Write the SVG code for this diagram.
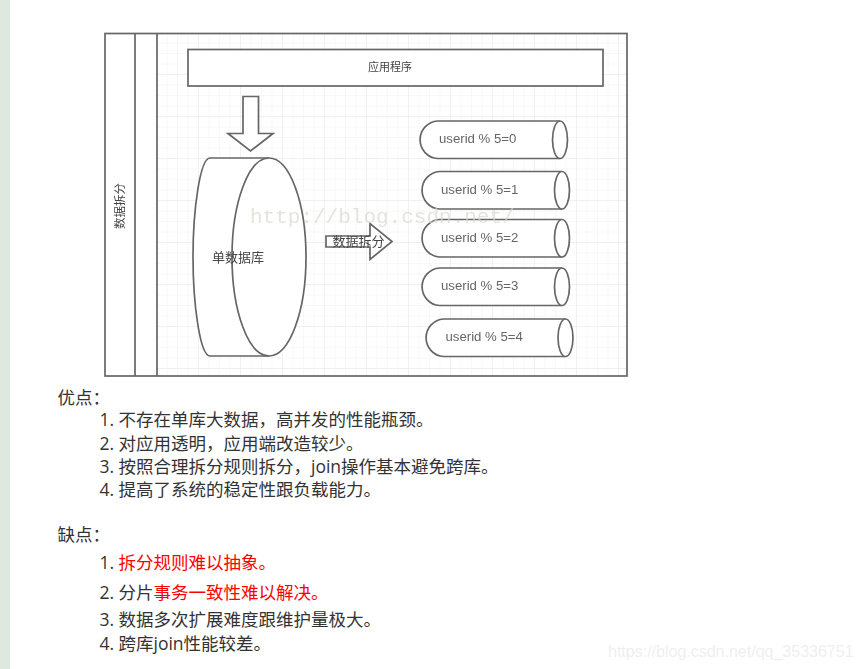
<svg xmlns="http://www.w3.org/2000/svg" width="859" height="669" viewBox="0 0 859 669">
<style>
.s{fill:#fff;stroke:#666;stroke-width:1.7}
.n{fill:none;stroke:#666;stroke-width:1.7}
.d{font-family:"Noto Sans CJK SC",sans-serif;font-size:13px;fill:#444}
.u{font-family:"Liberation Sans",sans-serif;font-size:13.200px;fill:#666}
.t{font-family:"Open Sans","Noto Sans CJK SC",sans-serif;font-size:17.500px;fill:#333}
.r{fill:#f00}
</style>
<defs>
<pattern id="minor" width="10.500" height="10.500" patternUnits="userSpaceOnUse" x="157" y="33">
<path d="M10.500 0V10.500H0" fill="none" stroke="#f1f1f1" stroke-width="1"/>
</pattern>
<pattern id="major" width="42" height="42" patternUnits="userSpaceOnUse" x="157" y="33">
<path d="M42 0V42H0" fill="none" stroke="#e9e9e9" stroke-width="1"/>
</pattern>
<filter id="b" x="-5%" y="-5%" width="110%" height="110%"><feGaussianBlur stdDeviation="0.5"/></filter>
</defs>
<rect width="859" height="669" fill="#fff"/>
<rect width="10" height="669" fill="#dfe8df"/>
<g filter="url(#b)">
<g id="frame">
<rect x="157" y="34" width="470" height="342" fill="url(#minor)"/>
<rect x="157" y="34" width="470" height="342" fill="url(#major)"/>
<rect class="n" x="105" y="33.500" width="522" height="342.500"/>
<path class="n" d="M135 33.500V376M157 33.500V376"/>
<text class="d" style="font-size:11.500px" transform="translate(124,229) rotate(-90)">数据拆分</text>
</g>
<g id="app">
<rect class="s" x="188" y="49.500" width="415" height="36.500"/>
<text class="d" x="390" y="71" text-anchor="middle" style="font-size:11px">应用程序</text>
</g>
<g id="down-arrow">
<path class="s" d="M243 96.500H258.500V133.500H273L250.500 151L228 133.500H243Z"/>
</g>
<g id="single-db">
<path class="s" d="M269 158H210C200 158 193 210 193 257C193 304 200 356 210 356H269"/>
<ellipse class="s" cx="269" cy="257" rx="37" ry="99"/>
<text class="d" x="238" y="261.500" text-anchor="middle">单数据库</text>
</g>
<g id="split-arrow">
<path class="s" d="M326 236H370V223.500L392 241.500L370 259.500V247H326Z"/>
<text class="d" x="358.500" y="246" text-anchor="middle">数据拆分</text>
</g>
<g id="shard-0">
<path class="s" d="M560 121H437.500A18.800 18.800 0 0 0 437.500 158.500H560"/>
<ellipse class="s" cx="560" cy="139.750" rx="7.500" ry="18.750"/>
<text class="u" x="439" y="143">userid % 5=0</text>
</g>
<g id="shard-1">
<path class="s" d="M562 171.500H439.500A18.800 18.800 0 0 0 439.500 209H562"/>
<ellipse class="s" cx="562" cy="190.250" rx="7.500" ry="18.750"/>
<text class="u" x="441" y="193.500">userid % 5=1</text>
</g>
<g id="shard-2">
<path class="s" d="M562 219.500H439.500A18.800 18.800 0 0 0 439.500 257H562"/>
<ellipse class="s" cx="562" cy="238.250" rx="7.500" ry="18.750"/>
<text class="u" x="441" y="241.500">userid % 5=2</text>
</g>
<g id="shard-3">
<path class="s" d="M562 268H439.500A18.800 18.800 0 0 0 439.500 305.500H562"/>
<ellipse class="s" cx="562" cy="286.750" rx="7.500" ry="18.750"/>
<text class="u" x="441" y="290">userid % 5=3</text>
</g>
<g id="shard-4">
<path class="s" d="M565.500 319H443.500A18.800 18.800 0 0 0 443.500 356.500H565.500"/>
<ellipse class="s" cx="565.500" cy="337.750" rx="7.500" ry="18.750"/>
<text class="u" x="445.500" y="341">userid % 5=4</text>
</g>
<text x="250" y="222.500" style="font-family:'Liberation Mono',monospace;font-size:21px;fill:#d9d9d0;fill-opacity:.7">http://blog.csdn.net/</text>
</g>
<g id="pros">
<text class="t" x="57.500" y="404">优点：</text>
<text class="t" x="99.500" y="426">1.</text><text class="t" x="118.500" y="426">不存在单库大数据，高并发的性能瓶颈。</text>
<text class="t" x="99.500" y="450">2.</text><text class="t" x="118.500" y="450">对应用透明，应用端改造较少。</text>
<text class="t" x="99.500" y="473">3.</text><text class="t" x="118.500" y="473">按照合理拆分规则拆分，join操作基本避免跨库。</text>
<text class="t" x="99.500" y="496">4.</text><text class="t" x="118.500" y="496">提高了系统的稳定性跟负载能力。</text>
</g>
<g id="cons">
<text class="t" x="57.500" y="541">缺点：</text>
<text class="t" x="99.500" y="569">1.</text><text class="t r" x="118.500" y="569">拆分规则难以抽象。</text>
<text class="t" x="99.500" y="599">2.</text><text class="t" x="118.500" y="599">分片<tspan class="r">事务一致性难以解决。</tspan></text>
<text class="t" x="99.500" y="626">3.</text><text class="t" x="118.500" y="626">数据多次扩展难度跟维护量极大。</text>
<text class="t" x="99.500" y="650">4.</text><text class="t" x="118.500" y="650">跨库join性能较差。</text>
</g>
<text x="608" y="657" style="font-family:'Liberation Sans',sans-serif;font-size:16px;fill:#efefef">https://blog.csdn.net/qq_35336751</text>
</svg>
